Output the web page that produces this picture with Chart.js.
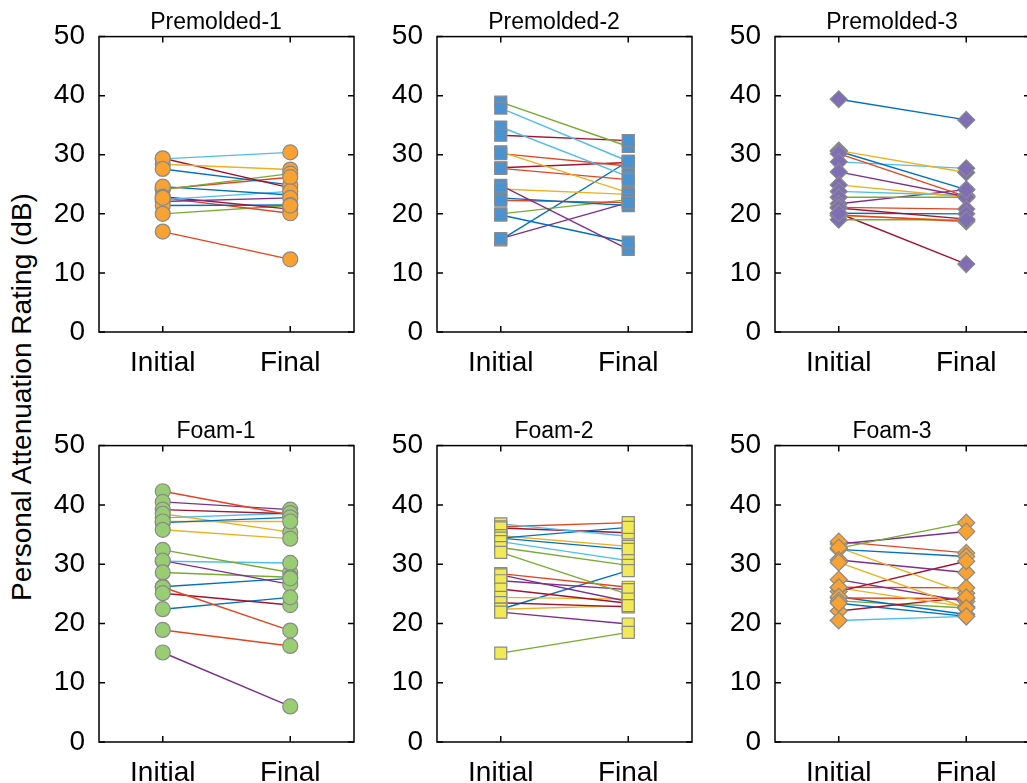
<!DOCTYPE html>
<html>
<head>
<meta charset="utf-8">
<title>Personal Attenuation Rating</title>
<script src="https://cdn.jsdelivr.net/npm/chart.js@4.4.0/dist/chart.umd.min.js"></script>
<style>
  body { margin: 0; width: 1027px; height: 783px; overflow: hidden; position: relative; background: #fff; font-family: "Liberation Sans", Arial, sans-serif; }
  canvas { position: absolute; }
  #ylabel { position: absolute; left: 22px; top: 397px; transform: translate(-50%, -50%) rotate(-90deg); font-size: 28px; white-space: nowrap; color: #000; }
</style>
</head>
<body>
<div id="ylabel">Personal Attenuation Rating (dB)</div>
<canvas id="p1"></canvas>
<canvas id="p2"></canvas>
<canvas id="p3"></canvas>
<canvas id="p4"></canvas>
<canvas id="p5"></canvas>
<canvas id="p6"></canvas>
<script>
const categories = ['Initial', 'Final'];
const yTicks = [0, 10, 20, 30, 40, 50];
const titles = ['Premolded-1', 'Premolded-2', 'Premolded-3', 'Foam-1', 'Foam-2', 'Foam-3'];

// Premolded-1
const pm1Initial = [29.3, 28.4, 29.4, 27.6, 24.1, 24.2, 24.6, 22.4, 22.1, 22.9, 21.4, 22.7, 20.0, 17.0];
const pm1Final   = [30.4, 27.5, 24.4, 24.9, 26.8, 26.2, 23.2, 23.8, 22.7, 20.8, 21.5, 20.1, 21.4, 12.3];
// Premolded-2
const pm2Initial = [38.9, 37.9, 34.7, 33.3, 30.5, 30.2, 27.8, 27.7, 24.8, 24.2, 22.7, 22.3, 20.0, 19.8, 15.6, 15.8];
const pm2Final   = [31.4, 28.9, 26.3, 32.4, 23.6, 28.1, 28.7, 25.8, 14.0, 23.3, 21.4, 21.9, 22.4, 15.2, 28.9, 21.9];
// Premolded-3
const pm3Initial = [39.4, 30.7, 30.6, 30.2, 28.8, 27.1, 24.9, 23.8, 22.8, 21.7, 21.1, 21.0, 20.1, 19.8, 19.7, 19.0, 20.1];
const pm3Final   = [35.9, 27.0, 24.1, 22.9, 27.7, 22.9, 22.8, 23.1, 22.8, 24.1, 20.8, 19.1, 20.0, 18.7, 18.9, 19.0, 11.5];
// Foam-1
const fm1Initial = [42.3, 40.5, 39.2, 37.8, 37.0, 38.5, 37.2, 35.8, 32.4, 30.5, 30.6, 28.6, 26.2, 26.1, 25.1, 22.4, 18.9, 15.1];
const fm1Final   = [38.3, 39.2, 38.5, 38.6, 37.9, 35.4, 37.2, 34.3, 28.6, 30.2, 26.6, 27.8, 27.6, 18.8, 23.1, 24.4, 16.2, 6.0];
// Foam-2
const fm2Initial = [36.8, 36.3, 36.1, 34.4, 34.8, 34.4, 33.8, 32.8, 32.0, 28.4, 28.2, 27.2, 25.8, 24.4, 23.5, 22.4, 22.4, 21.9, 15.0];
const fm2Final   = [34.7, 37.0, 35.3, 36.2, 33.0, 32.5, 30.6, 29.8, 24.9, 26.1, 23.7, 25.7, 23.4, 24.1, 22.8, 23.0, 28.9, 19.9, 18.5];
// Foam-3
const fm3Initial = [32.7, 33.4, 33.8, 32.5, 32.8, 30.7, 30.3, 25.4, 27.4, 26.0, 26.1, 24.3, 22.1, 24.5, 23.8, 23.4, 20.5];
const fm3Final   = [37.0, 35.5, 31.9, 31.3, 25.1, 28.6, 22.6, 30.5, 23.7, 22.8, 26.0, 24.2, 24.4, 21.5, 22.6, 21.2, 21.2];

// line colours (MATLAB default order), one letter per subject line
const palette = { B: '#0072BD', R: '#E8431F', Y: '#EDB120', P: '#7E2F8E', G: '#77AC30', C: '#4DBEEE', D: '#A2142F' };
const pm1Colors = 'CYDBGRBCPDBRGR';
const pm2Colors = 'GCCDYRDRPYBRGBBP';
const pm3Colors = 'BYBRCPYCGPRDBRYGD';
const fm1Colors = 'RPDCBYYYGCPGBRDBRP';
const fm2Colors = 'CRDBYBCGGRPPDYDYBPG';
const fm3Colors = 'GPRBYPYDPYRRDBGBC';

const FONT = '"Liberation Sans", Arial, sans-serif';

// box around the plot with inward tick marks on all four sides
const framePlugin = {
    id: 'frame',
    afterDatasetsDraw(chart) {
        const ctx = chart.ctx;
        const a = chart.chartArea;
        const tl = 6;
        ctx.save();
        ctx.strokeStyle = '#000';
        ctx.lineWidth = 1.5;
        ctx.strokeRect(a.left, a.top, a.right - a.left, a.bottom - a.top);
        ctx.beginPath();
        chart.scales.y.ticks.forEach(t => {
            const py = chart.scales.y.getPixelForValue(t.value);
            ctx.moveTo(a.left, py); ctx.lineTo(a.left + tl, py);
            ctx.moveTo(a.right, py); ctx.lineTo(a.right - tl, py);
        });
        chart.scales.x.ticks.forEach(t => {
            const px = chart.scales.x.getPixelForValue(t.value);
            ctx.moveTo(px, a.bottom); ctx.lineTo(px, a.bottom - tl);
            ctx.moveTo(px, a.top); ctx.lineTo(px, a.top + tl);
        });
        ctx.stroke();
        ctx.restore();
    }
};

function makePanel(id, title, initial, final, colors, marker, fill, boxLeft, boxTop, boxHeight) {
    const canvas = document.getElementById(id);
    const w = 70 + 255 + 49;
    const h = 37 + boxHeight + 50;
    canvas.width = w;
    canvas.height = h;
    canvas.style.left = (boxLeft - 70) + 'px';
    canvas.style.top = (boxTop - 37) + 'px';

    const datasets = [];
    const markerPts = [];
    initial.forEach((v, i) => {
        markerPts.push({ x: 1, y: v });
        markerPts.push({ x: 2, y: final[i] });
    });
    datasets.push({
        data: markerPts,
        showLine: false,
        order: -1,
        pointStyle: marker.style,
        pointRadius: marker.r,
        pointBackgroundColor: fill,
        pointBorderColor: '#8a8a8a',
        pointBorderWidth: 1.2
    });
    initial.forEach((v, i) => {
        datasets.push({
            data: [{ x: 1, y: v }, { x: 2, y: final[i] }],
            borderColor: palette[colors[i]],
            borderWidth: 1.4,
            pointRadius: 0,
            fill: false
        });
    });

    new Chart(canvas.getContext('2d'), {
        type: 'line',
        data: { datasets: datasets },
        options: {
            responsive: false,
            animation: false,
            layout: { padding: 0 },
            plugins: {
                legend: { display: false },
                tooltip: { enabled: false },
                title: {
                    display: true,
                    text: title,
                    color: '#000',
                    font: { family: FONT, size: 23, lineHeight: 1.2, weight: 'normal' },
                    padding: { top: 9, bottom: 0 }
                }
            },
            scales: {
                x: {
                    type: 'linear',
                    min: 0.5,
                    max: 2.5,
                    grid: { display: false },
                    border: { display: false },
                    afterBuildTicks: s => { s.ticks = [{ value: 1 }, { value: 2 }]; },
                    afterFit: s => { s.height = 50; },
                    ticks: {
                        color: '#000',
                        padding: 6,
                        maxRotation: 0,
                        font: { family: FONT, size: 28 },
                        callback: v => categories[v - 1]
                    }
                },
                y: {
                    min: 0,
                    max: 50,
                    grid: { display: false },
                    border: { display: false },
                    afterBuildTicks: s => { s.ticks = yTicks.map(v => ({ value: v })); },
                    afterFit: s => { s.width = 70; },
                    ticks: {
                        color: '#000',
                        padding: 6,
                        font: { family: FONT, size: 28 }
                    }
                },
                // empty right-hand axis, only reserves space so the title sits where the reference has it
                yRight: {
                    position: 'right',
                    min: 0,
                    max: 50,
                    grid: { display: false },
                    border: { display: false },
                    ticks: { display: false },
                    afterFit: s => { s.width = 49; }
                }
            }
        },
        plugins: [framePlugin]
    });
}

const circle = { style: 'circle', r: 7.5 };
const square = { style: 'rect', r: 8.5 };
const diamond = { style: 'rectRot', r: 8.5 };

makePanel('p1', titles[0], pm1Initial, pm1Final, pm1Colors, circle,  '#F7A233', 99,  37,  295);
makePanel('p2', titles[1], pm2Initial, pm2Final, pm2Colors, square,  '#4A92D2', 437, 37,  295);
makePanel('p3', titles[2], pm3Initial, pm3Final, pm3Colors, diamond, '#7F6DB5', 775, 37,  295);
makePanel('p4', titles[3], fm1Initial, fm1Final, fm1Colors, circle,  '#98CD74', 99,  446, 296);
makePanel('p5', titles[4], fm2Initial, fm2Final, fm2Colors, square,  '#F2E956', 437, 446, 296);
makePanel('p6', titles[5], fm3Initial, fm3Final, fm3Colors, diamond, '#F7A233', 775, 446, 296);
</script>
</body>
</html>
